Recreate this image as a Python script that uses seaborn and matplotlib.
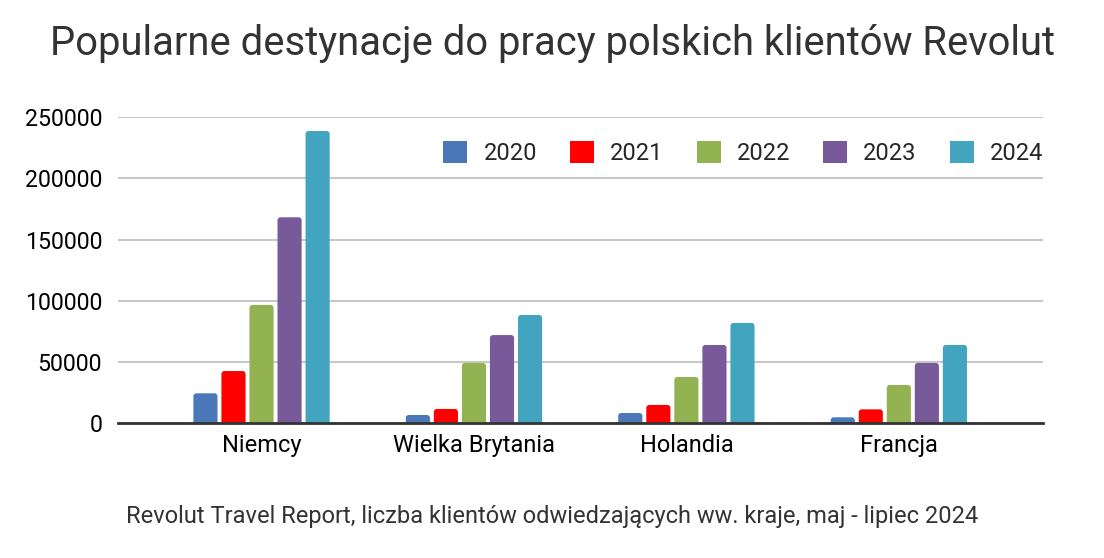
import pandas as pd
import numpy as np
import matplotlib.pyplot as plt
import seaborn as sns
from matplotlib.patches import FancyBboxPatch, Patch

# values
kraje = ["Niemcy", "Wielka Brytania", "Holandia", "Francja"]
lata = ["2020", "2021", "2022", "2023", "2024"]
v2020 = [24500, 6800, 8400, 4900]
v2021 = [42700, 11700, 15000, 11400]
v2022 = [96700, 49300, 37800, 31300]
v2023 = [168300, 72100, 64000, 49300]
v2024 = [238800, 88500, 82000, 64000]
kolory = ["#4a77b8", "#ff0000", "#93b251", "#785a9a", "#43a4c0"]

df = pd.DataFrame({"kraj": kraje, "2020": v2020, "2021": v2021,
                   "2022": v2022, "2023": v2023, "2024": v2024})
df = df.melt(id_vars="kraj", var_name="rok", value_name="liczba")

sns.set_style("white")
plt.rcParams["font.family"] = ["Roboto", "DejaVu Sans"]

fig = plt.figure(figsize=(11.04, 5.58), dpi=100)
ax = fig.add_axes([0.107, 0.2414, 0.838, 0.5484])

sns.barplot(data=df, x="kraj", y="liczba", hue="rok", hue_order=lata,
            palette=kolory, width=0.66, gap=0.14, saturation=1,
            edgecolor="none", legend=False, ax=ax)

ax.set_ylim(0, 250000)
ax.set_xlim(-0.675, 3.68)

# rounded bar tops (about 3 px radius)
fig.canvas.draw()
px_x = ax.bbox.width / (ax.get_xlim()[1] - ax.get_xlim()[0])
px_y = ax.bbox.height / (ax.get_ylim()[1] - ax.get_ylim()[0])
r = 3.0 / px_x
aspect = px_x / px_y
for p in list(ax.patches):
    x, w, h = p.get_x(), p.get_width(), p.get_height()
    c = p.get_facecolor()
    p.remove()
    off = 4.0 / px_y
    ax.add_patch(FancyBboxPatch((x, -off), w, h + off,
                                boxstyle=f"round,pad=0,rounding_size={r}",
                                mutation_aspect=aspect, facecolor=c,
                                edgecolor="none", zorder=3))

ax.set_yticks(np.arange(0, 250001, 50000))
ax.yaxis.grid(True, color="#c8c8c8", linewidth=1.5, zorder=0)
ax.set_axisbelow(True)
for s in ["top", "right", "left"]:
    ax.spines[s].set_visible(False)
ax.spines["bottom"].set_color("#333333")
ax.spines["bottom"].set_linewidth(2)
ax.spines["bottom"].set_zorder(5)
ax.tick_params(axis="x", length=0, labelsize=17, colors="black", pad=8)
ax.tick_params(axis="y", length=0, labelsize=16.7, colors="black", pad=11.5)
ax.set_xlabel("")
ax.set_ylabel("")

uchwyty = [Patch(facecolor=k, edgecolor="none", label=l) for k, l in zip(kolory, lata)]
ax.legend(handles=uchwyty, loc="center right", bbox_to_anchor=(1.0, 0.883), ncol=5,
          frameon=False, fontsize=17, handlelength=1.02, handleheight=1.02,
          handletextpad=0.68, columnspacing=1.4, borderaxespad=0, borderpad=0)

fig.text(0.5, 0.9014, "Popularne destynacje do pracy polskich klientów Revolut",
         ha="center", va="baseline", fontsize=28.8, color="#333333")
fig.text(0.5, 0.0622, "Revolut Travel Report, liczba klientów odwiedzających ww. kraje, maj - lipiec 2024",
         ha="center", va="baseline", fontsize=17, color="#333333")

fig.savefig("out.png", dpi=100)
